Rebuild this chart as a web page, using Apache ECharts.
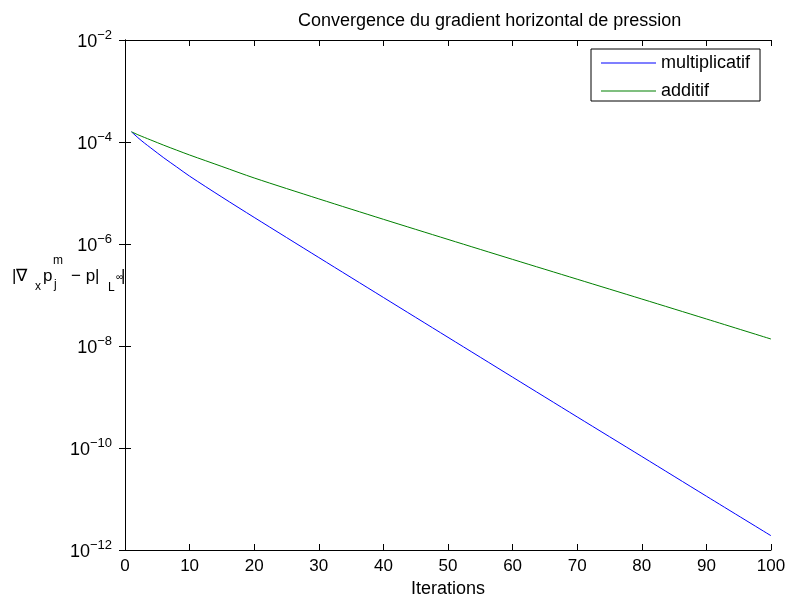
<!DOCTYPE html>
<html>
<head>
<meta charset="utf-8">
<script src="https://cdn.jsdelivr.net/npm/echarts@6/dist/echarts.min.js"></script>
<style>
html,body{margin:0;padding:0;background:#fff;}
#chart{width:789px;height:603px;}
</style>
</head>
<body>
<div id="chart"></div>
<script>
// Data (iteration, |grad error|)
const iterations = [1, 2, 3, 4, 6, 8, 10, 15, 20, 30, 40, 50, 60, 70, 80, 90, 100];
const multiplicatif = [1.585e-4, 1.216e-4, 9.55e-5, 7.64e-5, 4.90e-5, 3.24e-5, 2.14e-5, 8.32e-6, 3.32e-6, 5.43e-7, 8.95e-8, 1.48e-8, 2.45e-9, 4.07e-10, 6.82e-11, 1.135e-11, 1.905e-12];
const additif = [1.585e-4, 1.387e-4, 1.230e-4, 1.094e-4, 8.65e-5, 6.92e-5, 5.56e-5, 3.31e-5, 1.97e-5, 7.67e-6, 3.05e-6, 1.23e-6, 4.99e-7, 2.04e-7, 8.34e-8, 3.39e-8, 1.37e-8];
const xTicks = [0, 10, 20, 30, 40, 50, 60, 70, 80, 90, 100];
const yExponents = [-12, -10, -8, -6, -4, -2];
const seriesNames = ['multiplicatif', 'additif'];
const seriesColors = ['#0000ff', '#008000'];
const titleText = 'Convergence du gradient horizontal de pression';
const xName = 'Iterations';

const FONT = '"Liberation Sans", Arial, Helvetica, sans-serif';
const chart = echarts.init(document.getElementById('chart'), null, {renderer: 'canvas'});

function pairs(ys) { return iterations.map((x, i) => [x, ys[i]]); }

const axisLineStyle = {color: '#000', width: 1};
const option = {
  backgroundColor: '#fff',
  animation: false,
  title: {
    text: titleText,
    left: 298, top: 12, padding: 0,
    textStyle: {fontFamily: FONT, fontSize: 18, fontWeight: 'normal', color: '#000'}
  },
  legend: {
    data: seriesNames,
    orient: 'vertical',
    left: 591, top: 49,
    icon: 'rect',
    itemWidth: 55, itemHeight: 1, itemGap: 10,
    padding: [5, 10, 1, 10],
    borderColor: '#000', borderWidth: 1,
    backgroundColor: '#fff',
    itemStyle: {borderWidth: 0},
    textStyle: {fontFamily: FONT, fontSize: 18, color: '#000', lineHeight: 18}
  },
  grid: {left: 125, right: 18, top: 40, bottom: 51, containLabel: false},
  xAxis: [{
    type: 'value', min: 0, max: 100, interval: 10,
    name: xName, nameLocation: 'middle', nameGap: 30,
    nameTextStyle: {fontFamily: FONT, fontSize: 18, color: '#000'},
    axisLine: {show: true, lineStyle: axisLineStyle},
    axisTick: {show: true, inside: true, length: 6, lineStyle: axisLineStyle},
    axisLabel: {fontFamily: FONT, fontSize: 17, color: '#000', margin: 8,
      formatter: v => xTicks.indexOf(v) >= 0 ? String(v) : ''},
    splitLine: {show: false}
  }, {
    type: 'value', min: 0, max: 100, interval: 10, position: 'top',
    axisLine: {show: true, lineStyle: axisLineStyle},
    axisTick: {show: true, inside: true, length: 6, lineStyle: axisLineStyle},
    axisLabel: {show: false}, splitLine: {show: false}
  }],
  yAxis: [{
    type: 'log', logBase: 10, min: Math.pow(10, yExponents[0]), max: Math.pow(10, yExponents[yExponents.length - 1]),
    interval: 2, splitNumber: 5,
    axisLine: {show: true, lineStyle: axisLineStyle},
    axisTick: {show: true, inside: true, length: 6, lineStyle: axisLineStyle},
    minorTick: {show: false},
    axisLabel: {
      margin: 13,
      padding: [4, 0, 0, 0],
      formatter: v => '{b|10}{e|\u2212' + Math.abs(Math.round(Math.log10(v))) + '}',
      rich: {
        b: {fontFamily: FONT, fontSize: 18, color: '#000', lineHeight: 18, verticalAlign: 'bottom'},
        e: {fontFamily: FONT, fontSize: 13, color: '#000', lineHeight: 13, verticalAlign: 'bottom', padding: [0, 0, 9, 0]}
      }
    },
    splitLine: {show: false}
  }, {
    type: 'log', logBase: 10, min: Math.pow(10, yExponents[0]), max: Math.pow(10, yExponents[yExponents.length - 1]),
    interval: 2, splitNumber: 5, position: 'right',
    axisLine: {show: true, lineStyle: axisLineStyle},
    axisTick: {show: true, inside: true, length: 6, lineStyle: axisLineStyle},
    axisLabel: {show: false}, splitLine: {show: false}
  }],
  series: seriesNames.map((name, k) => ({
    name: name, type: 'line', data: pairs(k === 0 ? multiplicatif : additif),
    symbol: 'none', smooth: 0.3,
    lineStyle: {color: seriesColors[k], width: 1}, itemStyle: {color: seriesColors[k]}
  })),
  graphic: [
    {type: 'text', left: 12, top: 268, style: {text: '|\u2207', font: '17px ' + FONT, fill: '#000'}},
    {type: 'text', left: 35, top: 281, style: {text: 'x', font: '12px ' + FONT, fill: '#000'}},
    {type: 'text', left: 43, top: 268, style: {text: 'p', font: '17px ' + FONT, fill: '#000'}},
    {type: 'text', left: 53, top: 255, style: {text: 'm', font: '12px ' + FONT, fill: '#000'}},
    {type: 'text', left: 54, top: 279, style: {text: 'j', font: '12px ' + FONT, fill: '#000'}},
    {type: 'text', left: 71, top: 268, style: {text: '\u2212 p|', font: '17px ' + FONT, fill: '#000'}},
    {type: 'text', left: 108, top: 282, style: {text: 'L', font: '12px ' + FONT, fill: '#000'}},
    {type: 'text', left: 116, top: 272, style: {text: '\u221e', font: '10px ' + FONT, fill: '#000'}},
    {type: 'text', left: 121, top: 268, style: {text: '|', font: '17px ' + FONT, fill: '#000'}}
  ]
};
chart.setOption(option);
</script>
</body>
</html>
